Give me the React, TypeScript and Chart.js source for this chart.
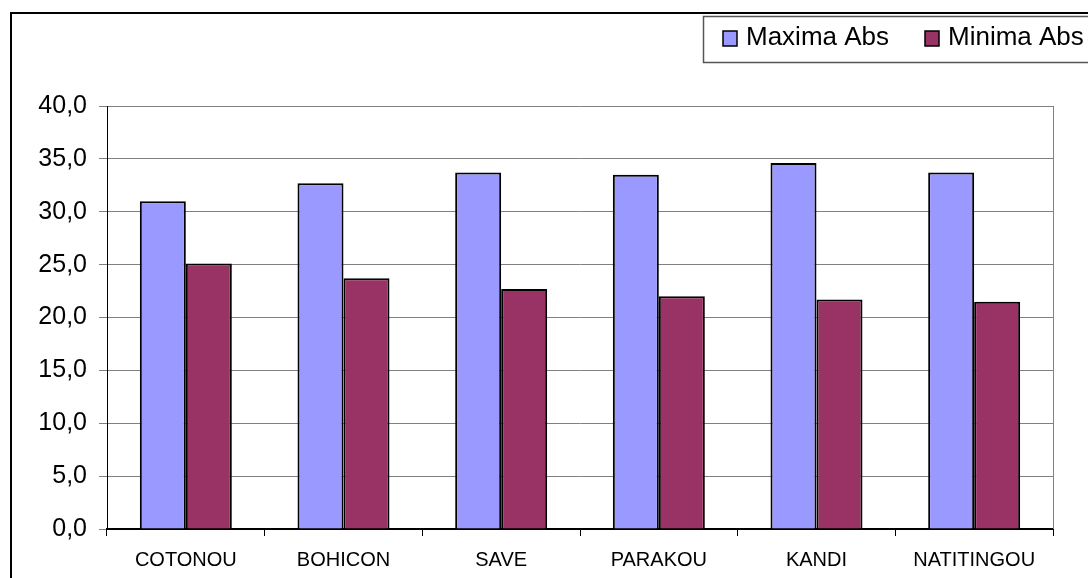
import React, { useEffect, useRef } from 'react';
import { Chart, registerables } from 'chart.js';

Chart.register(...registerables);

const categories = ['COTONOU', 'BOHICON', 'SAVE', 'PARAKOU', 'KANDI', 'NATITINGOU'];
const maximaAbs = [31.0, 32.7, 33.7, 33.5, 34.6, 33.7];
const minimaAbs = [25.1, 23.7, 22.7, 22.0, 21.7, 21.5];
const seriesLabels = ['Maxima Abs', 'Minima Abs'];
const seriesColors = ['#9999FF', '#993366'];
const yMin = 0;
const yMax = 40;
const yStep = 5;

const FONT = '"Liberation Sans", Arial, Helvetica, sans-serif';

const framePlugin = {
  id: 'excelFrame',
  afterDraw(chart: any) {
    const ctx = chart.ctx;
    const { top, right, bottom } = chart.chartArea;
    ctx.save();
    // right border of plot area
    ctx.strokeStyle = '#808080';
    ctx.lineWidth = 1;
    ctx.beginPath();
    const rx = Math.round(right) + 0.5;
    ctx.moveTo(rx, top);
    ctx.lineTo(rx, bottom);
    ctx.stroke();

    // outer chart border
    ctx.strokeStyle = '#000';
    ctx.lineWidth = 2;
    ctx.strokeRect(3, 5, 1300, 900);

    // legend box
    ctx.strokeStyle = '#555';
    ctx.lineWidth = 1.5;
    ctx.fillStyle = '#fff';
    ctx.fillRect(695.5, 8.5, 600, 46);
    ctx.strokeRect(695.5, 8.5, 600, 46);

    const items = chart.data.datasets.map((d: any) => ({ label: d.label, color: d.backgroundColor }));
    const xs = [715, 917];
    ctx.font = `26px ${FONT}`;
    ctx.textBaseline = 'alphabetic';
    ctx.textAlign = 'left';
    items.forEach((it: any, i: number) => {
      const x = xs[i];
      ctx.fillStyle = it.color;
      ctx.fillRect(x, 23, 14, 15);
      ctx.strokeStyle = '#000';
      ctx.lineWidth = 1.5;
      ctx.strokeRect(x, 23, 14, 15);
      ctx.fillStyle = '#000';
      ctx.fillText(it.label, x + 23, 37);
    });
    ctx.restore();
  },
};

export default function App() {
  const ref = useRef<HTMLCanvasElement | null>(null);

  useEffect(() => {
    document.documentElement.style.overflow = 'hidden';
    document.body.style.overflow = 'hidden';
    const canvas = ref.current;
    if (!canvas) return;
    const chart = new Chart(canvas, {
      type: 'bar',
      data: {
        labels: categories,
        datasets: [
          {
            label: seriesLabels[0],
            data: maximaAbs,
            backgroundColor: seriesColors[0],
            borderColor: '#000',
            borderWidth: 2,
            categoryPercentage: 0.5835,
            barPercentage: 1,
          },
          {
            label: seriesLabels[1],
            data: minimaAbs,
            backgroundColor: seriesColors[1],
            borderColor: '#000',
            borderWidth: 2,
            categoryPercentage: 0.5835,
            barPercentage: 1,
          },
        ],
      },
      options: {
        responsive: false,
        animation: false,
        devicePixelRatio: 1,
        layout: { padding: { top: 98, left: 0, right: 35, bottom: 0 } },
        plugins: {
          legend: { display: false },
          tooltip: { enabled: false },
          title: { display: false },
        },
        scales: {
          x: {
            afterFit(scale: any) {
              scale.height = 49;
            },
            grid: {
              offset: true,
              drawOnChartArea: false,
              drawTicks: true,
              tickLength: 7,
              color: '#000',
            },
            border: { color: '#000', width: 2 },
            ticks: {
              color: '#000',
              font: { family: FONT, size: 20 },
              padding: 12,
              maxRotation: 0,
              autoSkip: false,
            },
          },
          y: {
            min: yMin,
            max: yMax,
            afterFit(scale: any) {
              scale.width = 99;
            },
            grid: {
              color: '#808080',
              lineWidth: 1,
              drawTicks: true,
              tickLength: 8,
            },
            border: { color: '#000', width: 1 },
            ticks: {
              stepSize: yStep,
              color: '#000',
              font: { family: FONT, size: 25 },
              padding: 12,
              callback: (v: any) => Number(v).toFixed(1).replace('.', ','),
            },
          },
        },
      },
      plugins: [framePlugin],
    });
    return () => chart.destroy();
  }, []);

  return (
    <div
      style={{
        position: 'fixed',
        left: 0,
        top: 0,
        width: 1088,
        height: 578,
        overflow: 'hidden',
        background: '#fff',
      }}
    >
      <canvas
        ref={ref}
        width={1080}
        height={570}
        style={{ position: 'absolute', left: 8, top: 8, width: 1080, height: 570, display: 'block' }}
      />
    </div>
  );
}
